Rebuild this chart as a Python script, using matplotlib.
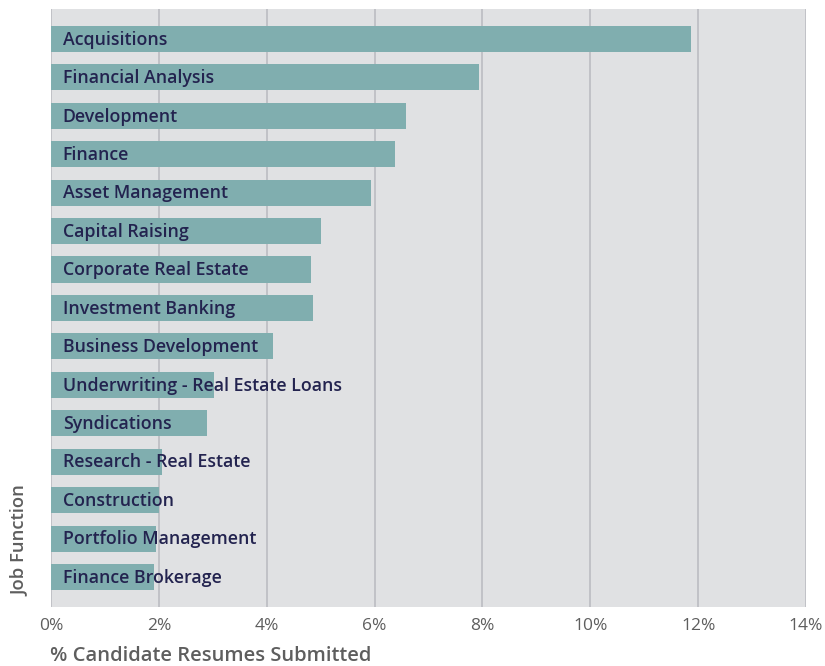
import matplotlib
matplotlib.use('Agg')
import matplotlib.pyplot as plt
from matplotlib.ticker import FuncFormatter

# 데이터
job_functions = [
    'Acquisitions', 'Financial Analysis', 'Development', 'Finance',
    'Asset Management', 'Capital Raising', 'Corporate Real Estate',
    'Investment Banking', 'Business Development',
    'Underwriting - Real Estate Loans', 'Syndications',
    'Research - Real Estate', 'Construction', 'Portfolio Management',
    'Finance Brokerage',
]
pct_submitted = [11.87, 7.94, 6.59, 6.38, 5.94, 5.01, 4.82, 4.86, 4.12,
                 3.02, 2.89, 2.06, 2.00, 1.95, 1.91]
x_ticks = [0, 2, 4, 6, 8, 10, 12, 14]

plt.rcParams['font.family'] = ['Open Sans', 'DejaVu Sans']

fig = plt.figure(figsize=(8.25, 6.66), dpi=100)
ax = fig.add_axes([0.0618, 0.0886, 0.9152, 0.898])
ax.set_facecolor('#E0E1E3')

y = list(range(len(job_functions)))
ax.barh(y, pct_submitted, height=0.68, color='#80AEAF', zorder=2)

# 막대 안쪽 라벨
for i, name in enumerate(job_functions):
    ax.text(0.22, i + 0.02, name, va='center', ha='left', fontsize=12.8,
            fontweight='semibold', color='#23234F', zorder=3)

ax.set_xlim(0, 14)
ax.set_ylim(len(job_functions) - 0.22, -0.78)
ax.set_xticks(x_ticks)
ax.xaxis.set_major_formatter(FuncFormatter(lambda v, p: f'{v:.0f}%'))
ax.set_yticks([])
ax.grid(axis='x', color='#BEBFC5', linewidth=1.3, zorder=1)
ax.set_axisbelow(True)
for s in ax.spines.values():
    s.set_visible(False)
ax.tick_params(axis='x', length=0, pad=8, labelsize=12.5, labelcolor='#5E5E5E')

fig.text(0.0606, 0.0, '% Candidate Resumes Submitted', fontsize=14.5,
         fontweight='semibold', color='#5E5E5E', ha='left', va='bottom')
fig.text(0.013, 0.105, 'Job Function', fontsize=13.3, fontweight='semibold',
         color='#5E5E5E', rotation=90, ha='left', va='bottom')

plt.savefig('out.png', dpi=100)
